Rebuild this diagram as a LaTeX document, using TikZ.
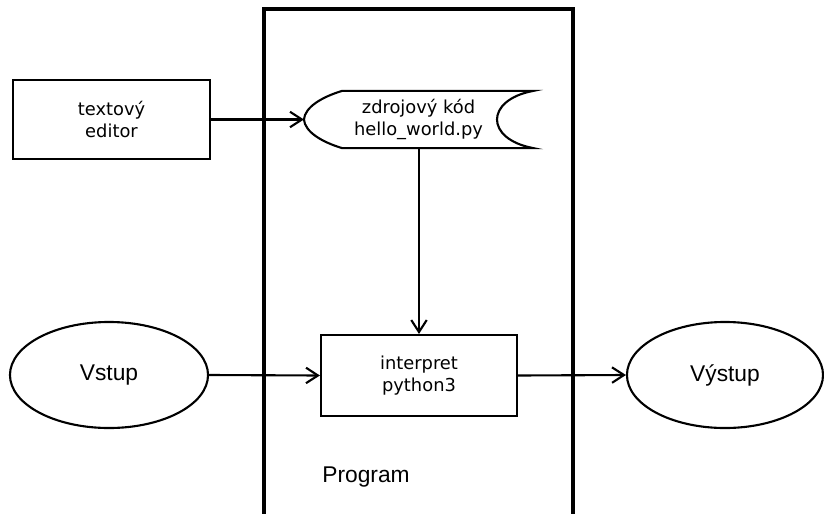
\documentclass[tikz,border=0pt]{standalone}
\usepackage{fontspec}
\setmainfont{DejaVu Sans}
\newfontfamily\arialfont{Liberation Sans}
\usetikzlibrary{arrows.meta,shapes.geometric}

\begin{document}
\begin{tikzpicture}[x=0.025cm, y=-0.025cm,
    box/.style={draw, line width=1.5pt, inner sep=0pt, align=center, font=\fontsize{12.7}{15.5}\selectfont},
    oval/.style={draw, ellipse, line width=1.5pt, inner sep=0pt, font=\arialfont\fontsize{16.2}{19}\selectfont},
    flow/.style={line width=1.5pt, -{Straight Barb[length=8.5pt, width=11pt, line width=1.5pt]}}]
    \useasboundingbox (0, 0) rectangle (824, 514);

    % Program frame (cut off at the bottom)
    \draw[line width=2.2pt] (264, 514) -- (264, 9) -- (573, 9) -- (573, 514);
    \node[font=\arialfont\fontsize{16.2}{19}\selectfont] (program) at (366, 477) {Program};

    % Editor and source file
    \node[box, minimum width=4.925cm, minimum height=1.975cm] (editor) at (111.5, 119.5) {textový\\editor};
    \node[box, draw=none, minimum width=5.675cm, minimum height=1.375cm] (kod) at (418.5, 119.5) {zdrojový kód\\hello\_world.py};
    \draw[line width=1.5pt] (kod.west) .. controls (305, 107) and (322, 97) .. ([xshift=0.95cm]kod.north west)
        -- (kod.north east) .. controls (485, 100) and (485, 139) .. (kod.south east)
        -- ([xshift=0.95cm]kod.south west) .. controls (322, 142) and (305, 132) .. (kod.west);

    % Interpreter with input and output
    \node[box, minimum width=4.9cm, minimum height=2.025cm] (interp) at (419, 375.5) {interpret\\python3};
    \node[oval, minimum width=4.95cm, minimum height=2.65cm] (vstup) at (109, 375) {Vstup};
    \node[oval, minimum width=4.9cm, minimum height=2.65cm] (vystup) at (725, 375) {Výstup};

    % Arrows
    \draw[flow] (editor.east) -- (kod.west);
    \draw[flow] (kod.south -| interp.north) -- (interp.north);
    \draw[flow] (vstup.east) -- (interp.west);
    \draw[flow] (interp.east) -- (vystup.west);
\end{tikzpicture}
\end{document}
